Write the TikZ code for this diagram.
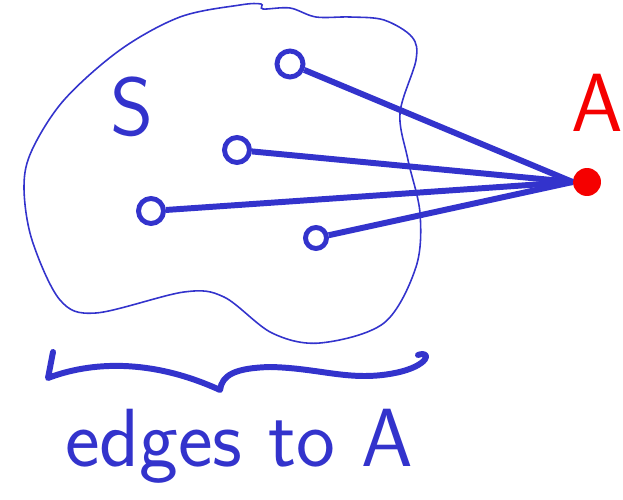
\documentclass[tikz,border=0pt]{standalone}
\usepackage{fontspec}
\usepackage{tikz}
\usetikzlibrary{positioning}

\definecolor{penblue}{RGB}{51,51,204}
\definecolor{penred}{RGB}{245,0,0}

\tikzset{
  vtx/.style={circle, draw=penblue, line width=2.8pt, inner sep=0pt, minimum size=0.42cm},
  edg/.style={penblue, line width=3.4pt},
  hand/.style={font=\sffamily\fontsize{47}{50}\selectfont}
}

\begin{document}
\begin{tikzpicture}[x=0.02cm, y=-0.02cm]
  \useasboundingbox (0,0) rectangle (623,500);

  % === ENSEMBLE S ===
  \draw[penblue, line width=0.9pt] plot[smooth cycle, tension=0.55] coordinates {
    (240,5) (261,4) (263,9) (290,8) (316,17) (350,17) (384,20) (412,37) (416,60)
    (400,113) (408,160) (420,213) (416,267) (384,323) (320,343) (272,333)
    (224,297) (184,292) (96,313) (60,300) (32,240) (24,187) (32,150)
    (64,100) (120,50) (180,17)};
  \node[hand, penblue] (Slabel) at (132,107) {S};

  % Sommets
  \node[vtx, minimum width=0.52cm, minimum height=0.4cm] (n1) at (290,64) {};
  \node[vtx, minimum height=0.5cm] (n2) at (237,150) {};
  \node[vtx, minimum size=0.5cm] (n3) at (151,211) {};
  \node[vtx] (n4) at (316,238) {};

  % === SOMMET A ===
  \node[circle, fill=penred, inner sep=0pt, minimum width=0.56cm, minimum height=0.5cm] (A) at (587,182) {};
  \node[hand, penred, above=6mm of A, xshift=2mm] (Alabel) {A};

  % Aretes
  \foreach \v in {n1,n2,n3,n4} {
    \draw[edg] (\v) -- (A.west);
  }

  % === ACCOLADE ===
  \draw[penblue, line width=3.4pt, line cap=round, line join=round]
    (53,352) -- (48,378) .. controls (90,362) and (150,358) .. (220,390)
    .. controls (222,375) and (235,368) .. (270,367)
    .. controls (320,368) and (350,382) .. (395,373)
    .. controls (430,366) and (432,350) .. (418,355);
  \node[hand, penblue] (legend) at (239,446) {edges to A};
\end{tikzpicture}
\end{document}
